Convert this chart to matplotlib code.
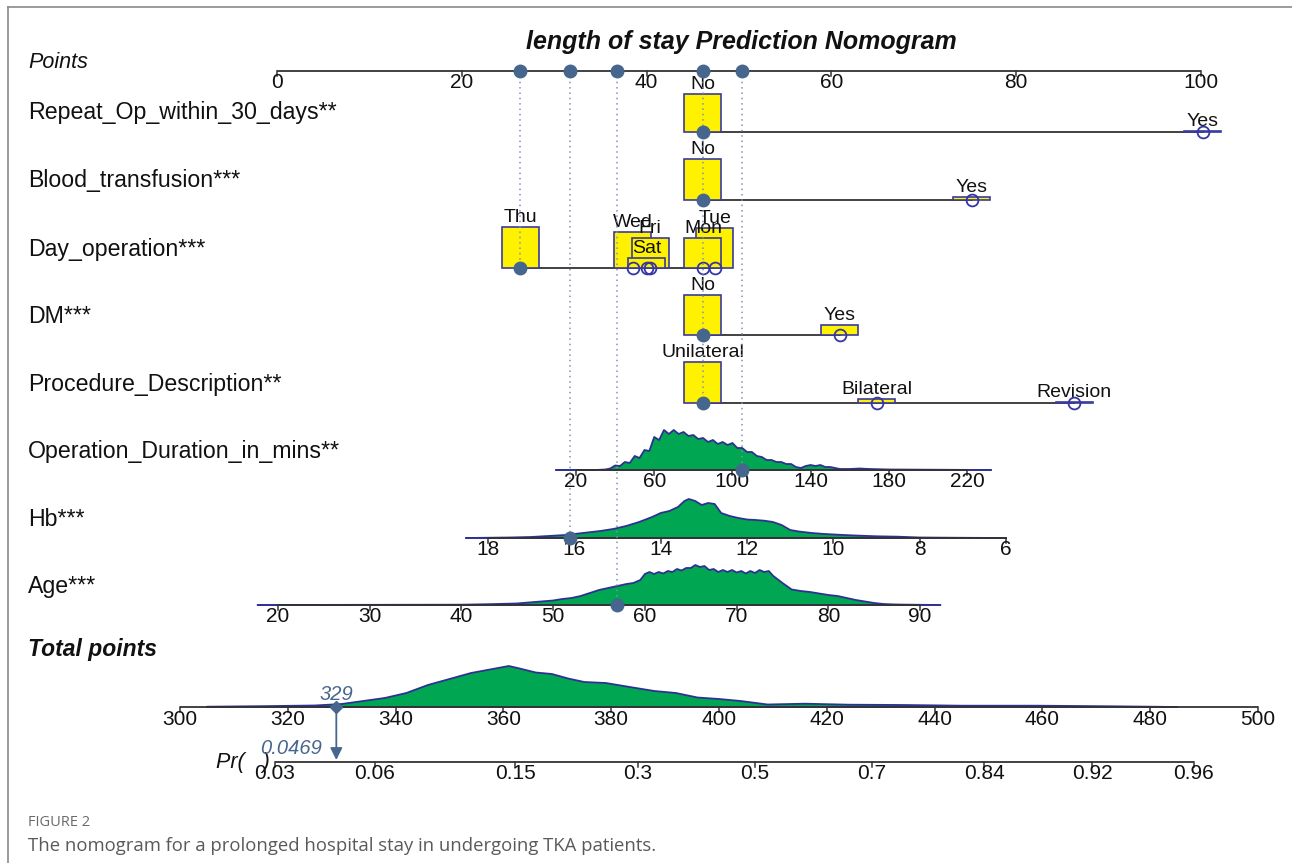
import numpy as np
import matplotlib
matplotlib.use('Agg')
import matplotlib.pyplot as plt
from matplotlib.patches import Rectangle

plt.rcParams['font.family'] = ['Liberation Sans', 'DejaVu Sans']

# ---------------- data ----------------
title = 'length of stay Prediction Nomogram'
point_ticks = [0, 20, 40, 60, 80, 100]

# categorical predictors: categories, points, relative box height
repeat_cats = ['No', 'Yes']
repeat_pts = [46.1, 100.2]
repeat_freq = [0.92, 0.015]

blood_cats = ['No', 'Yes']
blood_pts = [46.1, 75.2]
blood_freq = [1.0, 0.07]

day_cats = ['Thu', 'Wed', 'Fri', 'Sat', 'Mon', 'Tue']
day_pts = [26.3, 38.5, 40.4, 40.0, 46.1, 47.4]
day_freq = [1.0, 0.88, 0.74, 0.25, 0.74, 0.98]

dm_cats = ['No', 'Yes']
dm_pts = [46.1, 60.9]
dm_freq = [0.98, 0.25]

proc_cats = ['Unilateral', 'Bilateral', 'Revision']
proc_pts = [46.1, 64.9, 86.3]
proc_freq = [1.0, 0.09, 0.02]

# continuous predictors: tick values and density outline (relative height)
dur_ticks = [20, 60, 100, 140, 180, 220]
dur_x = [10, 30, 35, 37.5, 40, 42.5, 45, 47.5, 50, 52.5, 55, 57.5, 60, 62.5, 65, 67.5,
         70, 72.5, 75, 77.5, 80, 82.5, 85, 87.5, 90, 92.5, 95, 97.5, 100, 102.5,
         105, 107.5, 110, 112.5, 115, 117.5, 120, 122.5, 125, 127.5, 130, 132.5,
         135, 137.5, 140, 142.5, 145, 147.5, 150, 152.5, 155, 160, 165, 170, 180,
         200, 232]
dur_d = [0, 0, 0.5, 1.5, 4.5, 4, 8, 7, 14, 12, 20, 19, 33, 30, 40, 36,
         40, 36, 38, 34, 35, 31, 32, 28, 30, 26, 28, 25, 27, 22,
         22, 18, 18, 14, 13, 10, 10, 8, 8, 6, 6, 3,
         2, 4, 5, 4, 5, 3, 3, 2, 1, 1, 1.5, 1, 0.5,
         0.3, 0]

hb_ticks = [18, 16, 14, 12, 10, 8, 6]
hb_x = [18.5, 17.5, 17.0, 16.6, 16.2, 15.8, 15.4, 15.1, 14.8, 14.5, 14.2, 14.0,
        13.8, 13.6, 13.45, 13.35, 13.2, 13.05, 12.9, 12.75, 12.6, 12.4, 12.2,
        12.0, 11.8, 11.6, 11.4, 11.2, 11.0, 10.8, 10.5, 10.2, 9.9, 9.5, 9.0,
        8.5, 8.0, 7.0, 6.0]
hb_d = [0, 0.5, 1, 2, 3, 5, 7, 9, 12, 16, 21, 25,
        27, 31, 37, 39, 37, 33, 35, 34, 25, 22, 20,
        18.5, 18, 17.3, 16, 13, 8, 6.5, 5, 4, 3.3, 2.5, 1.7,
        1.3, 0.5, 0.2, 0]

age_ticks = [20, 30, 40, 50, 60, 70, 80, 90]
age_x = [17.8, 40, 43, 46, 48, 50, 51, 52, 53, 54, 55, 56, 57, 58, 58.75, 59.5,
         60, 60.5, 61, 61.5, 62, 62.5, 63, 63.5, 64, 64.5, 65, 65.5, 66, 66.5,
         67, 67.5, 68, 68.5, 69, 69.5, 70, 70.5, 71, 71.5, 72, 72.5, 73, 73.5,
         74, 75, 76, 77, 78, 79, 80, 81, 82, 83, 84, 85, 86, 87, 88, 90, 92.2]
age_d = [0, 0.3, 0.8, 1.5, 3, 4.5, 6, 7, 9, 12, 15, 17, 19, 21, 22, 25,
         31, 33, 31, 33, 31.5, 34, 33, 36, 34.5, 37, 37, 40, 38, 39,
         35, 36, 33, 35, 33, 35, 32.5, 34, 31.5, 34, 32, 35, 33, 34,
         29, 22, 15.5, 14, 13, 11.5, 10, 9, 7, 5, 3.5, 2, 1, 0.6, 0.4, 0.2, 0]

total_ticks = list(range(300, 501, 20))
tot_x = [305, 315, 325, 330, 334, 338, 342, 346, 350, 354, 358, 361, 363, 366,
         369, 372, 375, 379, 384, 388, 392, 396, 400, 404, 409, 416, 424, 434,
         445, 459, 473, 485]
tot_d = [0.3, 0.8, 1.5, 3, 6, 9, 14, 22, 28, 34, 38, 41, 38.5, 34.5,
         33, 28.5, 25, 24, 19.5, 16, 14, 9.5, 8, 6, 2.5, 3.3, 2.3, 2,
         1.3, 1.3, 0.7, 0]

pr_ticks = [0.03, 0.06, 0.15, 0.3, 0.5, 0.7, 0.84, 0.92, 0.96]
pr_labels = ['0.03', '0.06', '0.15', '0.3', '0.5', '0.7', '0.84', '0.92', '0.96']

# the patient shown on the nomogram
sel_dur, sel_hb, sel_age = 105, 16.1, 57
sel_total, sel_pr = 329, 0.0469

# ---------------- layout ----------------
W, H = 1292, 863
PX0, PXPP = 277.0, 9.24          # pixel of 0 points, pixels per point
fig = plt.figure(figsize=(W / 100, H / 100), dpi=100)
ax = fig.add_axes([0, 0, 1, 1])
ax.set_xlim(-PX0 / PXPP, (W - PX0) / PXPP)
ax.set_ylim(H, 0)
ax.axis('off')


def lx(px):
    return (px - PX0) / PXPP


def lin(v, a, pa, b, pb):
    return pa + (np.asarray(v, float) - a) * (pb - pa) / (b - a)


def dur_x2p(v):
    return lin(v, 20, 32.36, 220, 74.68)


def hb_x2p(v):
    return lin(v, 18, 22.84, 6, 78.9)


def age_x2p(v):
    return lin(v, 20, 0.1, 90, 69.6)


def tot_x2p(v):
    return lin(v, 300, lx(180), 500, lx(1258))


def pr_x2p(p):
    p = np.asarray(p, float)
    return lx(755) + 138.1 / PXPP * np.log(p / (1 - p))


rows = {'points': 71, 'repeat': 132, 'blood': 200, 'day': 268, 'dm': 335,
        'proc': 403, 'dur': 470, 'hb': 538, 'age': 605, 'total': 707, 'pr': 762}

YEL = '#FFF200'
EDGE = '#3B3B9B'
GREEN = '#00A651'
DBLUE = '#2E3192'
DOT = '#46668D'
LINE = '#333333'
DOTLINE = '#7F93B3'
BOX_W = 37 / PXPP
BOX_H = 41
TICK_FS = 15


def draw_axis(y, xs, labels, lab_off=2, tick_len=5):
    ax.plot([xs[0], xs[-1]], [y, y], color=LINE, lw=1.3, zorder=4,
            solid_capstyle='butt')
    for x, lab in zip(xs, labels):
        ax.plot([x, x], [y, y + tick_len], color=LINE, lw=1.1, zorder=4)
        ax.text(x, y + lab_off, lab, ha='center', va='top', fontsize=TICK_FS,
                color='#111111', zorder=4)


def draw_density(y, xs, ds):
    xs = np.asarray(xs, float)
    ys = y - np.asarray(ds, float)
    px = np.concatenate([[xs[0]], xs, [xs[-1]]])
    py = np.concatenate([[y], ys, [y]])
    ax.fill(px, py, color=GREEN, lw=0, zorder=3)
    ax.plot(px, py, color=DBLUE, lw=1.3, zorder=3.2)
    ax.plot([xs.min(), xs.max()], [y, y], color=DBLUE, lw=1.3, zorder=3.2)


def draw_cat(y, cats, pts, freq, sel):
    ax.plot([min(pts), max(pts)], [y, y], color=LINE, lw=1.3, zorder=2)
    order = np.argsort(-np.array(freq), kind='stable')
    for k, i in enumerate(order):
        h = max(freq[i] * BOX_H, 0.6)
        z = 3 + k * 0.01
        ax.add_patch(Rectangle((pts[i] - BOX_W / 2, y - h), BOX_W, h, fc=YEL,
                               ec=EDGE, lw=1.2, zorder=z))
        ax.text(pts[i], y - h - 1, cats[i], ha='center', va='bottom',
                fontsize=14, color='#111111', zorder=z + 0.005)
    for c, p in zip(cats, pts):
        if c != sel:
            ax.plot(p, y, 'o', ms=8.5, mfc='none', mec='#3535A5', mew=1.3,
                    zorder=4)


# frame
ax.plot([lx(8), lx(W)], [7, 7], color='#8A8A8A', lw=1.2)
ax.plot([lx(8), lx(8)], [7, H], color='#8A8A8A', lw=1.2)

ax.text(lx(741), 42, title, ha='center', va='center', fontsize=18,
        fontweight='bold', fontstyle='italic', color='#111111')

# points axis
ax.text(lx(28), 62, 'Points', ha='left', va='center', fontsize=15.5,
        fontstyle='italic', color='#111111')
draw_axis(rows['points'], point_ticks, [str(t) for t in point_ticks])

row_labels = [('repeat', 'Repeat_Op_within_30_days**'),
              ('blood', 'Blood_transfusion***'),
              ('day', 'Day_operation***'),
              ('dm', 'DM***'),
              ('proc', 'Procedure_Description**'),
              ('dur', 'Operation_Duration_in_mins**'),
              ('hb', 'Hb***'),
              ('age', 'Age***')]
for key, lab in row_labels:
    ax.text(lx(28), rows[key] - 19, lab, ha='left', va='center', fontsize=16.7,
            color='#111111')

draw_cat(rows['repeat'], repeat_cats, repeat_pts, repeat_freq, 'No')
draw_cat(rows['blood'], blood_cats, blood_pts, blood_freq, 'No')
draw_cat(rows['day'], day_cats, day_pts, day_freq, 'Thu')
draw_cat(rows['dm'], dm_cats, dm_pts, dm_freq, 'No')
draw_cat(rows['proc'], proc_cats, proc_pts, proc_freq, 'Unilateral')

# continuous rows
draw_density(rows['dur'], dur_x2p(dur_x), dur_d)
draw_axis(rows['dur'], dur_x2p(dur_ticks), [str(t) for t in dur_ticks])
draw_density(rows['hb'], hb_x2p(hb_x), hb_d)
draw_axis(rows['hb'], hb_x2p(hb_ticks), [str(t) for t in hb_ticks])
draw_density(rows['age'], age_x2p(age_x), age_d)
draw_axis(rows['age'], age_x2p(age_ticks), [str(t) for t in age_ticks])

# selected values and their dotted guides
sel = [(day_pts[0], rows['day']),
       (float(hb_x2p(sel_hb)), rows['hb']),
       (float(age_x2p(sel_age)), rows['age']),
       (repeat_pts[0], rows['proc']),
       (float(dur_x2p(sel_dur)), rows['dur'])]
for p, yend in sel:
    ax.plot([p, p], [rows['points'], yend], color=DOTLINE, lw=1.1,
            ls=(0, (1, 2.5)), zorder=5)
    ax.plot(p, rows['points'], 'o', ms=9, color=DOT, zorder=6)
for key in ['repeat', 'blood', 'dm', 'proc']:
    ax.plot(repeat_pts[0], rows[key], 'o', ms=9, color=DOT, zorder=6)
ax.plot(day_pts[0], rows['day'], 'o', ms=9, color=DOT, zorder=6)
ax.plot(dur_x2p(sel_dur), rows['dur'], 'o', ms=9, color=DOT, zorder=6)
ax.plot(hb_x2p(sel_hb), rows['hb'], 'o', ms=9, color=DOT, zorder=6)
ax.plot(age_x2p(sel_age), rows['age'], 'o', ms=9, color=DOT, zorder=6)

# total points
ax.text(lx(28), 649, 'Total points', ha='left', va='center', fontsize=16.5,
        fontweight='bold', fontstyle='italic', color='#111111')
draw_density(rows['total'], tot_x2p(tot_x), tot_d)
draw_axis(rows['total'], tot_x2p(total_ticks), [str(t) for t in total_ticks],
          lab_off=3)

xt = float(tot_x2p(sel_total))
ax.plot(xt, rows['total'], 'D', ms=6, color=DOT, zorder=6)
ax.annotate('', xy=(xt, rows['pr'] - 2), xytext=(xt, rows['total']),
            arrowprops=dict(arrowstyle='-|>', color=DOT, lw=1.3,
                            mutation_scale=18, shrinkA=0, shrinkB=0),
            zorder=6)
ax.text(xt, rows['total'] - 13, str(sel_total), ha='center', va='center',
        fontsize=14.5, fontstyle='italic', color=DOT, zorder=6)
ax.text(xt - lx(340) + lx(295), rows['pr'] - 14, str(sel_pr), ha='center',
        va='center', fontsize=14.5, fontstyle='italic', color=DOT, zorder=6)

# probability axis
draw_axis(rows['pr'], pr_x2p(pr_ticks), pr_labels)
ax.text(lx(270), rows['pr'], 'Pr(   )', ha='right', va='center', fontsize=15.5,
        fontstyle='italic', color='#111111')

# caption
ax.text(lx(28), 822, 'FIGURE 2', ha='left', va='center', fontsize=10.5,
        color='#6A6A6A', family=['Open Sans', 'DejaVu Sans'])
ax.text(lx(28), 846, 'The nomogram for a prolonged hospital stay in undergoing TKA patients.',
        ha='left', va='center', fontsize=13.3, color='#5A5A5A',
        family=['Open Sans', 'DejaVu Sans'])

fig.savefig('out.png', dpi=100)
